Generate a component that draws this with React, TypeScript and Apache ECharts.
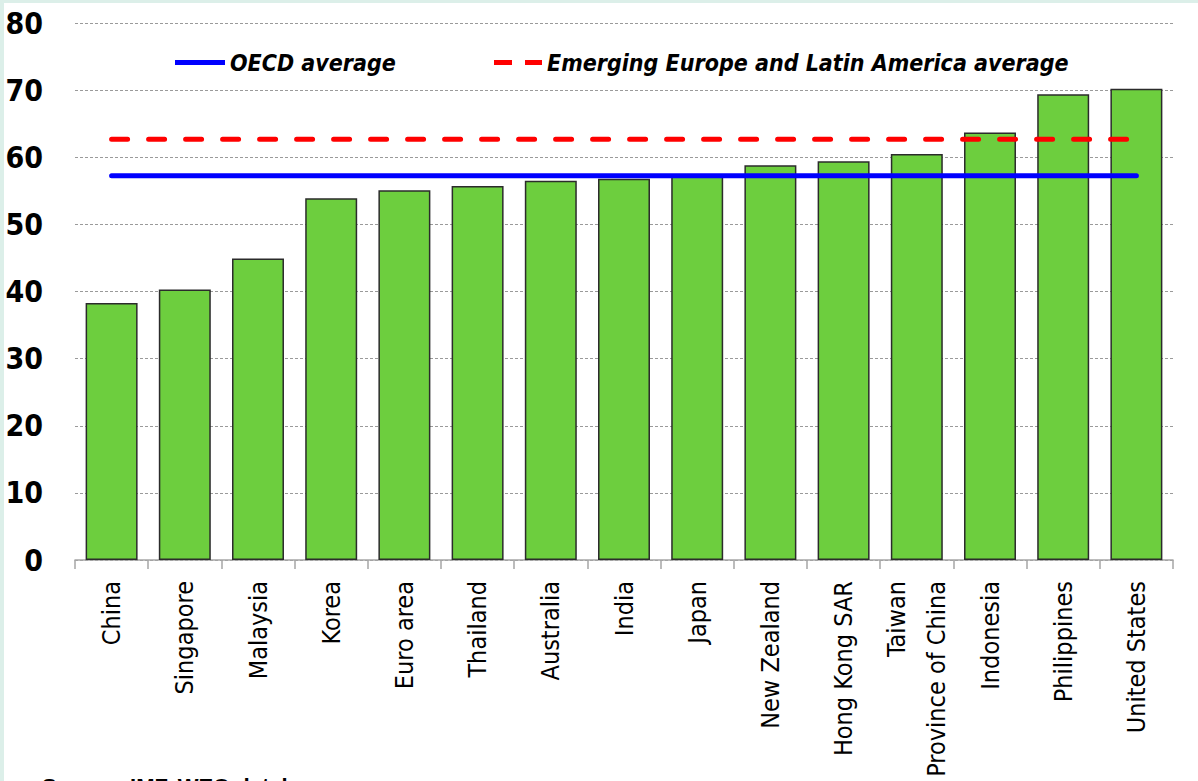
import React, { useEffect, useRef } from "react";
import * as echarts from "echarts";

const categories = [
  "China",
  "Singapore",
  "Malaysia",
  "Korea",
  "Euro area",
  "Thailand",
  "Australia",
  "India",
  "Japan",
  "New Zealand",
  "Hong Kong SAR",
  "Taiwan\nProvince of China",
  "Indonesia",
  "Philippines",
  "United States",
];
const values = [38.3, 40.3, 44.9, 53.9, 55.1, 55.7, 56.5, 56.8, 57.3, 58.8, 59.4, 60.5, 63.7, 69.4, 70.2];
const OECD_AVG = 57.25;
const EMERGING_AVG = 62.7;
const yTicks = { min: 0, max: 80, interval: 10 };
const legendNames = ["OECD average", "Emerging Europe and Latin America average"];
const sourceText = "Source: IMF, WEO database.";

const FONT = "'Liberation Sans Narrow', 'DejaVu Sans Condensed', 'Arial Narrow', 'Liberation Sans', sans-serif";

const legendText = {
  fontFamily: FONT,
  fontStyle: "italic",
  fontWeight: "bold",
  fontSize: 23,
  color: "#000",
};

export default function App() {
  const ref = useRef<HTMLDivElement>(null);
  useEffect(() => {
    document.body.style.margin = "0";
    const chart = echarts.init(ref.current!, undefined, { renderer: "svg" });
    chart.setOption({
      animation: false,
      backgroundColor: "#ffffff",
      textStyle: { fontFamily: FONT },
      grid: { left: 75, right: 25, top: 23, bottom: 221, containLabel: false, outerBoundsMode: "none" },
      legend: [
        {
          left: 170,
          top: 46,
          itemWidth: 50,
          itemHeight: 5,
          itemGap: 3,
          data: [{ name: legendNames[0], icon: "path://M0,0L50,0L50,5L0,5Z" }],
          textStyle: legendText,
        },
        {
          left: 489,
          top: 46,
          itemWidth: 48,
          itemHeight: 5,
          itemGap: 3,
          data: [{ name: legendNames[1], icon: "path://M0,0L18,0L18,5L0,5Z M31,0L48,0L48,5L31,5Z" }],
          textStyle: legendText,
        },
      ],
      xAxis: {
        type: "category",
        data: categories,
        axisLine: { lineStyle: { color: "#a6a6a6", width: 1.5 } },
        axisTick: { show: true, length: 9, lineStyle: { color: "#a6a6a6", width: 1.5 } },
        axisLabel: {
          rotate: 90,
          margin: 21,
          fontSize: 25,
          color: "#000",
          fontFamily: FONT,
          lineHeight: 40,
          interval: 0,
        },
      },
      yAxis: {
        type: "value",
        min: yTicks.min,
        max: yTicks.max,
        interval: yTicks.interval,
        axisLine: { show: false },
        axisTick: { show: false },
        axisLabel: {
          margin: 32,
          fontSize: 30,
          fontWeight: "bold",
          color: "#000",
          fontFamily: FONT,
        },
        splitLine: { lineStyle: { color: "#9a9a9a", type: [3, 2], width: 1 } },
      },
      series: [
        {
          type: "bar",
          data: values,
          barCategoryGap: "29%",
          itemStyle: { color: "#6dce3e", borderColor: "#2b2b2b", borderWidth: 1.5 },
          z: 2,
        },
        {
          name: legendNames[0],
          type: "line",
          data: categories.map(() => OECD_AVG),
          symbol: "none",
          lineStyle: { color: "#0000ff", width: 5, cap: "round" },
          itemStyle: { color: "#0000ff" },
          z: 3,
        },
        {
          name: legendNames[1],
          type: "line",
          data: categories.map(() => EMERGING_AVG),
          symbol: "none",
          lineStyle: { color: "#ff0000", width: 5, type: [16, 21], cap: "round" },
          itemStyle: { color: "#ff0000" },
          z: 3,
        },
      ],
      graphic: [
        { type: "rect", shape: { x: 0, y: 0, width: 1198, height: 3 }, style: { fill: "#dcefe9" }, silent: true },
        { type: "rect", shape: { x: 0, y: 0, width: 4, height: 781 }, style: { fill: "#dcefe9" }, silent: true },
        {
          type: "text",
          left: 42,
          top: 775,
          style: { text: sourceText, font: "bold 22px 'Liberation Sans', sans-serif", fill: "#000" },
        },
      ],
    });
    return () => chart.dispose();
  }, []);
  return <div ref={ref} style={{ width: 1198, height: 781, position: "absolute", left: 0, top: 0 }} />;
}
